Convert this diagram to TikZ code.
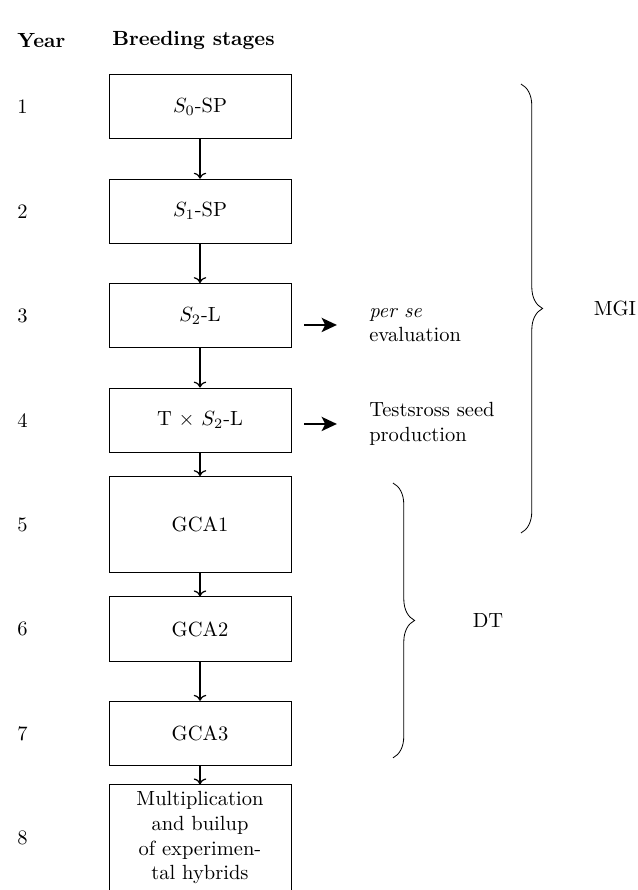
\documentclass[tikz,border=0pt]{standalone}
\usepackage{amsmath,amssymb}
\usepackage{tikz}
\usetikzlibrary{arrows.meta, positioning, calc, decorations.pathreplacing}

\begin{document}
\begin{tikzpicture}[
    stage/.style = {rectangle, draw=black, align=center, text width=2.2cm, minimum width=3.12cm, minimum height=1.1cm, inner sep=3.33pt},
    head/.style = {anchor=west, font=\bfseries},
    yearlabel/.style = {anchor=west},
    note/.style = {anchor=west, align=left},
    flow/.style = {->, semithick},
    sidearrow/.style = {-{Stealth[length=2.6mm, width=2.4mm, inset=0.6mm]}, line width=1.3pt, shorten <=0.22cm, shorten >=0.43cm},
    brace/.style = {decorate, decoration={brace, amplitude=0.37cm}}
]
\useasboundingbox (0,0) rectangle (10.935,-15.255);

% Header
\node (yearhead) [head] at (0.175, -0.686) {Year};
\node (stagehead) [head] at (1.80, -0.686) {Breeding stages};

% Year column
\node (y1) [yearlabel] at (0.175, -1.83) {1};
\node (y2) [yearlabel] at (0.175, -3.62) {2};
\node (y3) [yearlabel] at (0.175, -5.41) {3};
\node (y4) [yearlabel] at (0.175, -7.20) {4};
\node (y5) [yearlabel] at (0.175, -8.99) {5};
\node (y6) [yearlabel] at (0.175, -10.78) {6};
\node (y7) [yearlabel] at (0.175, -12.57) {7};
\node (y8) [yearlabel] at (0.175, -14.36) {8};

% Breeding stages (one per year)
\node (s0sp) [stage] at (3.428, -1.83) {$S_0$-SP};
\node (s1sp) [stage] at (3.428, -3.62) {$S_1$-SP};
\node (s2l) [stage] at (3.428, -5.41) {$S_2$-L};
\node (ts2l) [stage] at (3.428, -7.20) {T $\times$ $S_2$-L};
\node (gca1) [stage, minimum height=1.645cm] at (3.428, -8.99) {GCA1};
\node (gca2) [stage] at (3.428, -10.78) {GCA2};
\node (gca3) [stage] at (3.428, -12.57) {GCA3};
\node (multi) [stage] at (3.428, -14.36) {Multiplication\\and builup\\of experimen-\\tal hybrids};

% Side outputs
\node (perse) [note] at (6.205, -5.57) {\textit{per se}\\evaluation};
\node (testcross) [note] at (6.205, -7.267) {Testsross seed\\production};

% Downward flow
\draw [flow] (s0sp.south) -- (s1sp.north);
\draw [flow] (s1sp.south) -- (s2l.north);
\draw [flow] (s2l.south) -- (ts2l.north);
\draw [flow] (ts2l.south) -- (gca1.north);
\draw [flow] (gca1.south) -- (gca2.north);
\draw [flow] (gca2.south) -- (gca3.north);
\draw [flow] (gca3.south) -- (multi.north);

% Side arrows
\draw [sidearrow] (s2l.east |- perse.west) -- (perse.west);
\draw [sidearrow] (ts2l.east |- testcross.west) -- (testcross.west);

% Braces
\coordinate (mgitop) at (8.93, -1.44);
\coordinate (mgibot) at (8.93, -9.135);
\draw [brace] (mgitop) -- (mgibot);
\node (mgi) at (10.54, -5.28) {MGI};

\coordinate (dttop) at (6.736, -8.279);
\coordinate (dtbot) at (6.736, -12.99);
\draw [brace] (dttop) -- (dtbot);
\node (dt) at (8.365, -10.64) {DT};

\end{tikzpicture}
\end{document}
